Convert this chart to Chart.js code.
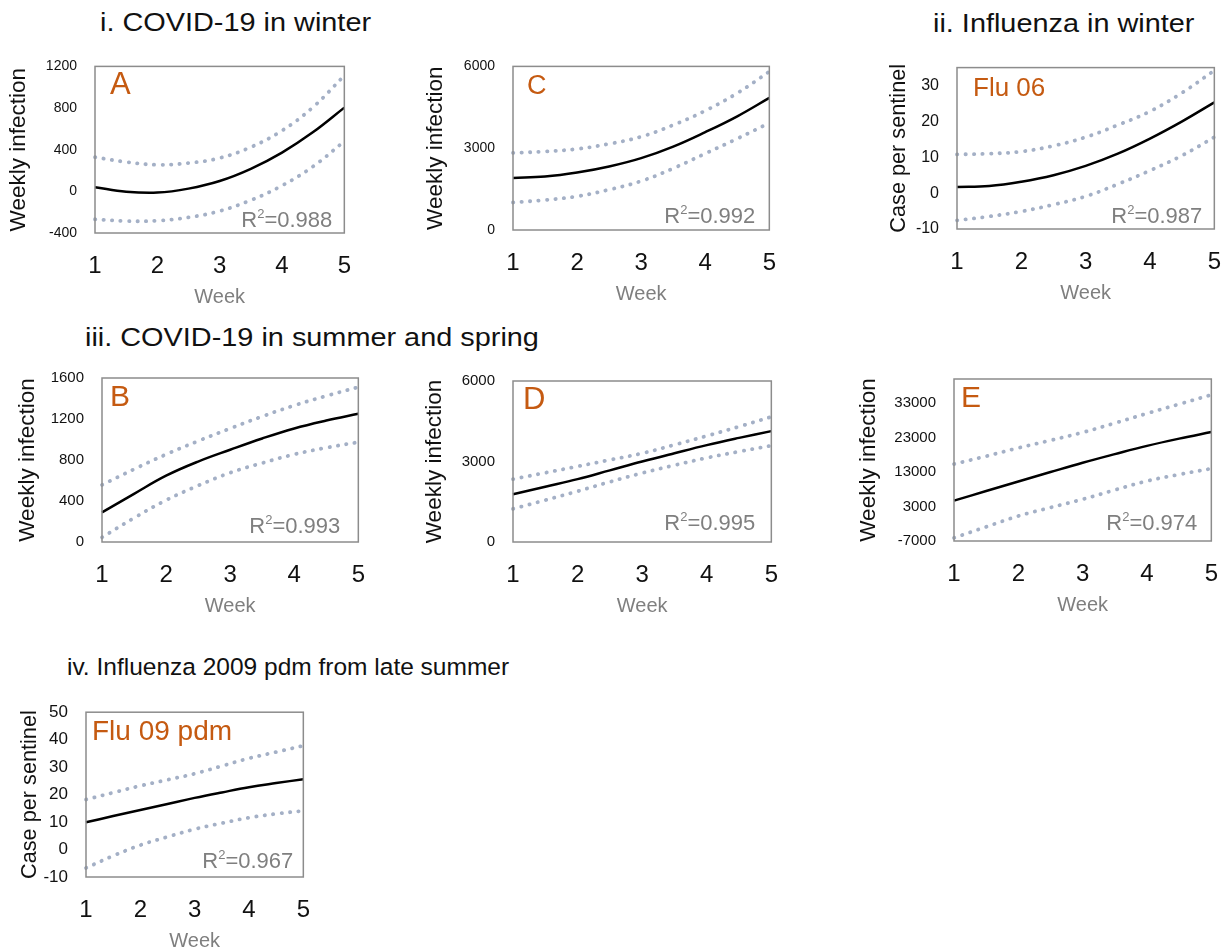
<!DOCTYPE html>
<html>
<head>
<meta charset="utf-8">
<script src="https://cdn.jsdelivr.net/npm/chart.js@4.4.0/dist/chart.umd.min.js"></script>
<style>
  html, body { margin: 0; padding: 0; background: #fff; overflow: hidden; width: 1232px; height: 951px; }
  body { font-family: "Liberation Sans", Arial, sans-serif; position: relative; }
  .titulo { position: absolute; font-size: 26px; line-height: 30px; color: #111; white-space: nowrap; transform-origin: 0 50%; transform: scaleX(1.11); }
  .titulo.baixo { font-size: 24.5px; transform: none; }
  canvas { position: absolute; }
</style>
</head>
<body>
<div class="titulo" style="left:100px;top:7px">i. COVID-19 in winter</div>
<div class="titulo" style="left:933px;top:8px">ii. Influenza in winter</div>
<div class="titulo" style="left:85px;top:322px">iii. COVID-19 in summer and spring</div>
<div class="titulo baixo" style="left:67px;top:652px">iv. Influenza 2009 pdm from late summer</div>

<canvas id="graficoA"></canvas>
<canvas id="graficoC"></canvas>
<canvas id="graficoFlu06"></canvas>
<canvas id="graficoB"></canvas>
<canvas id="graficoD"></canvas>
<canvas id="graficoE"></canvas>
<canvas id="graficoFlu09"></canvas>

<script>
// Dados (a cada meia semana)
const semanas = [1, 1.5, 2, 2.5, 3, 3.5, 4, 4.5, 5];

const ajusteA = [40, -3, -12, 26, 99, 216, 372, 569, 804];
const superiorA = [328, 282, 255, 272, 320, 425, 583, 810, 1112];
const inferiorA = [-268, -285, -282, -250, -189, -85, 55, 240, 481];
const ticksA = [-400, 0, 400, 800, 1200];

const ajusteC = [1907, 1960, 2108, 2330, 2636, 3060, 3589, 4170, 4845];
const superiorC = [2826, 2880, 2972, 3160, 3421, 3850, 4374, 5020, 5809];
const inferiorC = [1009, 1100, 1234, 1480, 1794, 2260, 2804, 3350, 3925];
const ticksC = [0, 3000, 6000];

const ajusteFlu06 = [1.7, 2.0, 3.2, 5.0, 7.6, 11.0, 15.2, 20.0, 25.3];
const superiorFlu06 = [10.8, 11.0, 11.6, 13.2, 15.6, 19.0, 22.8, 28.0, 34.2];
const inferiorFlu06 = [-7.6, -6.5, -5.1, -3.2, -0.9, 2.5, 6.3, 10.5, 15.6];
const ticksFlu06 = [-10, 0, 10, 20, 30];

const ajusteB = [289, 470, 647, 785, 900, 1010, 1108, 1185, 1251];
const superiorB = [557, 710, 855, 985, 1108, 1225, 1332, 1425, 1511];
const inferiorB = [45, 235, 408, 550, 676, 770, 855, 920, 974];
const ticksB = [0, 400, 800, 1200, 1600];

const ajusteD = [1777, 2060, 2343, 2670, 3000, 3310, 3611, 3880, 4132];
const superiorD = [2343, 2580, 2819, 3060, 3306, 3620, 3951, 4300, 4664];
const inferiorD = [1234, 1560, 1891, 2240, 2570, 2860, 3136, 3370, 3589];
const ticksD = [0, 3000, 6000];

const ajusteE = [4700, 7500, 10250, 13000, 15700, 18200, 20600, 22700, 24600];
const superiorE = [15300, 17600, 20000, 22200, 24500, 27200, 30000, 32700, 35400];
const inferiorE = [-6100, -2900, 250, 2700, 5100, 7800, 10400, 12300, 14000];
const ticksE = [-7000, 3000, 13000, 23000, 33000];

const ajusteFlu09 = [9.9, 12.2, 14.4, 16.6, 18.8, 20.8, 22.7, 24.2, 25.6];
const superiorFlu09 = [18.2, 20.7, 23.2, 25.4, 27.6, 30.4, 33.2, 35.5, 37.8];
const inferiorFlu09 = [-6.7, -2.3, 1.6, 4.6, 7.4, 9.6, 11.6, 13.0, 14.1];
const ticksFlu09 = [-10, 0, 10, 20, 30, 40, 50];

Chart.defaults.font.family = "'Liberation Sans', Arial, sans-serif";

const COR_PONTOS = "#a4b0c6";
const COR_LETRA = "#c55a11";
const COR_CINZA = "#7f7f7f";

// Moldura, letra do painel e R²
const moldura = {
  id: "moldura",
  afterDatasetsDraw(chart, args, opts) {
    const { ctx, chartArea: a } = chart;
    ctx.save();
    ctx.strokeStyle = "#8c8c8c";
    ctx.lineWidth = 1.5;
    ctx.strokeRect(a.left, a.top, a.right - a.left, a.bottom - a.top);

    ctx.fillStyle = COR_LETRA;
    ctx.font = opts.tamLetra + "px 'Liberation Sans', Arial, sans-serif";
    ctx.textBaseline = "alphabetic";
    ctx.textAlign = "left";
    ctx.fillText(opts.letra, a.left + opts.dxLetra, a.top + 28);

    // R²=0.xxx alinhado à direita
    const fonte = "22px 'Liberation Sans', Arial, sans-serif";
    const fonteSup = "13px 'Liberation Sans', Arial, sans-serif";
    ctx.fillStyle = COR_CINZA;
    ctx.font = fonte;
    const resto = "=" + opts.r2;
    const wR = ctx.measureText("R").width;
    const wResto = ctx.measureText(resto).width;
    ctx.font = fonteSup;
    const wSup = ctx.measureText("2").width;
    const base = a.bottom - opts.dyR2;
    let x = a.right - opts.dxR2 - (wR + wSup + wResto);
    ctx.font = fonte;
    ctx.fillText("R", x, base);
    x += wR;
    ctx.font = fonteSup;
    ctx.fillText("2", x, base - 9);
    x += wSup;
    ctx.font = fonte;
    ctx.fillText(resto, x, base);
    ctx.restore();
  }
};

function serie(valores, pontilhado) {
  return {
    data: semanas.map((s, i) => ({ x: s, y: valores[i] })),
    borderColor: pontilhado ? COR_PONTOS : "#000",
    borderWidth: pontilhado ? 3.8 : 2.5,
    borderDash: pontilhado ? [0.3, 8.2] : [],
    borderCapStyle: pontilhado ? "round" : "butt",
    pointRadius: 0,
    tension: 0.4,
    fill: false,
    clip: 4
  };
}

function criarPainel(p) {
  const canvas = document.getElementById(p.id);
  const padTopo = 12, padDir = 16, alturaX = 80;
  const largura = p.larguraY + (p.direita - p.esquerda) + padDir;
  const altura = padTopo + (p.base - p.topo) + alturaX;
  canvas.width = largura;
  canvas.height = altura;
  canvas.style.left = (p.esquerda - p.larguraY) + "px";
  canvas.style.top = (p.topo - padTopo) + "px";

  return new Chart(canvas, {
    type: "line",
    data: {
      datasets: [serie(p.superior, true), serie(p.inferior, true), serie(p.ajuste, false)]
    },
    options: {
      responsive: false,
      animation: false,
      devicePixelRatio: 1,
      layout: { padding: { top: padTopo, right: padDir, left: 0, bottom: 0 } },
      plugins: {
        legend: { display: false },
        tooltip: { enabled: false },
        moldura: { letra: p.letra, tamLetra: p.tamLetra, dxLetra: p.dxLetra, r2: p.r2, dxR2: p.dxR2, dyR2: p.dyR2 }
      },
      scales: {
        x: {
          type: "linear",
          min: 1,
          max: 5,
          grid: { display: false, drawTicks: false },
          border: { display: false },
          ticks: { stepSize: 1, padding: 19, color: "#111", font: { size: 24 } },
          title: { display: true, text: "Week", color: COR_CINZA, font: { size: 20 }, padding: { top: 0, bottom: 4 } },
          afterFit: s => { s.height = alturaX; }
        },
        y: {
          type: "linear",
          min: p.min,
          max: p.max,
          grid: { display: false, drawTicks: false },
          border: { display: false },
          afterBuildTicks: s => { s.ticks = p.ticks.map(v => ({ value: v })); },
          ticks: { padding: 18, color: "#111", font: { size: p.fonteY }, callback: v => String(v) },
          title: { display: true, text: p.tituloY, color: "#111", font: { size: p.fonteTitulo }, padding: { top: 0, bottom: 0 } },
          afterFit: s => { s.width = p.larguraY; }
        }
      }
    },
    plugins: [moldura]
  });
}

document.addEventListener("DOMContentLoaded", () => {
  criarPainel({ id: "graficoA", esquerda: 95, topo: 52, direita: 354, base: 233, larguraY: 90,
    ajuste: ajusteA, superior: superiorA, inferior: inferiorA, ticks: ticksA, min: -400, max: 1200,
    fonteY: 14, fonteTitulo: 22.5, tituloY: "Weekly infection", letra: "A", tamLetra: 31, dxLetra: 15, r2: "0.988", dxR2: 12, dyR2: 6 });

  criarPainel({ id: "graficoC", esquerda: 513, topo: 52, direita: 779, base: 230, larguraY: 91,
    ajuste: ajusteC, superior: superiorC, inferior: inferiorC, ticks: ticksC, min: 0, max: 6000,
    fonteY: 14, fonteTitulo: 22.5, tituloY: "Weekly infection", letra: "C", tamLetra: 27, dxLetra: 14, r2: "0.992", dxR2: 14, dyR2: 7 });

  criarPainel({ id: "graficoFlu06", esquerda: 957, topo: 52, direita: 1224, base: 229, larguraY: 71,
    ajuste: ajusteFlu06, superior: superiorFlu06, inferior: inferiorFlu06, ticks: ticksFlu06, min: -10, max: 35,
    fonteY: 16, fonteTitulo: 21.7, tituloY: "Case per sentinel", letra: "Flu 06", tamLetra: 26, dxLetra: 16, r2: "0.987", dxR2: 12, dyR2: 6 });

  criarPainel({ id: "graficoB", esquerda: 102, topo: 363, direita: 368, base: 542, larguraY: 88,
    ajuste: ajusteB, superior: superiorB, inferior: inferiorB, ticks: ticksB, min: 0, max: 1600,
    fonteY: 15, fonteTitulo: 22.5, tituloY: "Weekly infection", letra: "B", tamLetra: 30, dxLetra: 8, r2: "0.993", dxR2: 18, dyR2: 9 });

  criarPainel({ id: "graficoD", esquerda: 513, topo: 366, direita: 781, base: 542, larguraY: 92,
    ajuste: ajusteD, superior: superiorD, inferior: inferiorD, ticks: ticksD, min: 0, max: 6000,
    fonteY: 15, fonteTitulo: 22.5, tituloY: "Weekly infection", letra: "D", tamLetra: 31, dxLetra: 10, r2: "0.995", dxR2: 16, dyR2: 12 });

  criarPainel({ id: "graficoE", esquerda: 954, topo: 364, direita: 1221, base: 541, larguraY: 99,
    ajuste: ajusteE, superior: superiorE, inferior: inferiorE, ticks: ticksE, min: -7000, max: 40000,
    fonteY: 15, fonteTitulo: 22.5, tituloY: "Weekly infection", letra: "E", tamLetra: 30, dxLetra: 7, r2: "0.974", dxR2: 14, dyR2: 11 });

  criarPainel({ id: "graficoFlu09", esquerda: 86, topo: 696, direita: 313, base: 877, larguraY: 69,
    ajuste: ajusteFlu09, superior: superiorFlu09, inferior: inferiorFlu09, ticks: ticksFlu09, min: -10, max: 50,
    fonteY: 17, fonteTitulo: 21.7, tituloY: "Case per sentinel", letra: "Flu 09 pdm", tamLetra: 28, dxLetra: 6, r2: "0.967", dxR2: 10, dyR2: 9 });
});
</script>
</body>
</html>
